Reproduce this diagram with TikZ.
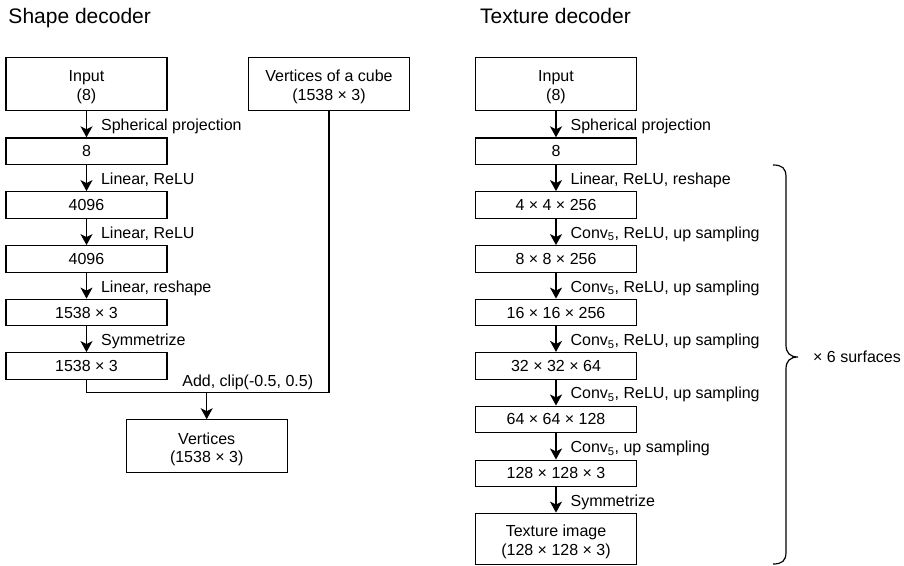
\documentclass[tikz,border=0pt]{standalone}
\usepackage{fontspec}
\setmainfont{Liberation Sans}
\usetikzlibrary{arrows.meta}

\newcommand{\lowtxt}[1]{\raisebox{-3pt}[\height][\depth]{#1}}

\tikzset{
  box/.style={draw, line width=1.2pt, minimum width=161pt, minimum height=26.6pt, inner sep=0pt, align=center, font=\fontsize{16}{18.3}\selectfont},
  tallbox/.style={box, minimum height=53pt},
  arr/.style={line width=1.2pt, -{Stealth[length=11pt,width=12pt,inset=3pt]}},
  txt/.style={inner sep=0pt, font=\fontsize{16}{18}\selectfont},
  lab/.style={txt, anchor=base west, xshift=14pt, yshift=-6.3pt},
  title/.style={anchor=base west, inner sep=0pt, font=\fontsize{21}{24}\selectfont}
}

\begin{document}
\begin{tikzpicture}[x=1pt,y=-1pt]
\useasboundingbox (0,0) rectangle (904,565);

% shape decoder
\node[title] (stitle) at (8.3,23.3) {Shape decoder};
\node[tallbox] (sin) at (86.5,84) {\lowtxt{Input}\\\lowtxt{(8)}};
\node[box] (s8) at (86.5,151.2) {8};
\node[box] (s4096a) at (86.5,205) {4096};
\node[box] (s4096b) at (86.5,259) {4096};
\node[box] (s1538a) at (86.5,312.5) {1538 × 3};
\node[box] (s1538b) at (86.5,366) {1538 × 3};
\node[tallbox] (cube) at (329,84) {\lowtxt{Vertices of a cube}\\\lowtxt{(1538 × 3)}};
\node[tallbox] (verts) at (206.7,446.3) {\lowtxt{Vertices}\\\lowtxt{(1538 × 3)}};

\draw[arr] (sin) -- (s8) node[lab, midway] {Spherical projection};
\draw[arr] (s8) -- (s4096a) node[lab, midway] {Linear, ReLU};
\draw[arr] (s4096a) -- (s4096b) node[lab, midway] {Linear, ReLU};
\draw[arr] (s4096b) -- (s1538a) node[lab, midway] {Linear, reshape};
\draw[arr] (s1538a) -- (s1538b) node[lab, midway] {Symmetrize};

\coordinate (mrg) at (206.7,392.7);
\draw[line width=1.2pt] (s1538b.south) |- (mrg) -| (cube.south);
\node[txt, anchor=base east] (addlab) at (313.3,386.7) {Add, clip(-0.5, 0.5)};
\draw[arr] (mrg) -- (verts);

% texture decoder
\node[title] (ttitle) at (480,23.3) {Texture decoder};
\node[tallbox] (tin) at (556,84) {\lowtxt{Input}\\\lowtxt{(8)}};
\node[box] (t8) at (556,151.2) {8};
\node[box] (t4) at (556,205) {4 × 4 × 256};
\node[box] (t8b) at (556,259) {8 × 8 × 256};
\node[box] (t16) at (556,312.5) {16 × 16 × 256};
\node[box] (t32) at (556,365.8) {32 × 32 × 64};
\node[box] (t64) at (556,419.4) {64 × 64 × 128};
\node[box] (t128) at (556,473.4) {128 × 128 × 3};
\node[box, minimum height=51pt] (timg) at (556,538.7) {\lowtxt{Texture image}\\\lowtxt{(128 × 128 × 3)}};

\draw[arr] (tin) -- (t8) node[lab, midway] {Spherical projection};
\draw[arr] (t8) -- (t4) node[lab, midway] {Linear, ReLU, reshape};
\draw[arr] (t4) -- (t8b) node[lab, midway] {Conv\textsubscript{5}, ReLU, up sampling};
\draw[arr] (t8b) -- (t16) node[lab, midway] {Conv\textsubscript{5}, ReLU, up sampling};
\draw[arr] (t16) -- (t32) node[lab, midway] {Conv\textsubscript{5}, ReLU, up sampling};
\draw[arr] (t32) -- (t64) node[lab, midway] {Conv\textsubscript{5}, ReLU, up sampling};
\draw[arr] (t64) -- (t128) node[lab, midway] {Conv\textsubscript{5}, up sampling};
\draw[arr] (t128) -- (timg) node[lab, midway] {Symmetrize};

% brace
\draw[line width=1.2pt] (773,165) .. controls (782,165) and (786,168) .. (786,177)
  -- (786,345) .. controls (786,353) and (790,357) .. (798,357)
  .. controls (790,357) and (786,361) .. (786,369)
  -- (786,552) .. controls (786,561) and (782,564) .. (773,564);
\node[txt, anchor=west] (times) at (813,357) {× 6 surfaces};
\end{tikzpicture}
\end{document}
